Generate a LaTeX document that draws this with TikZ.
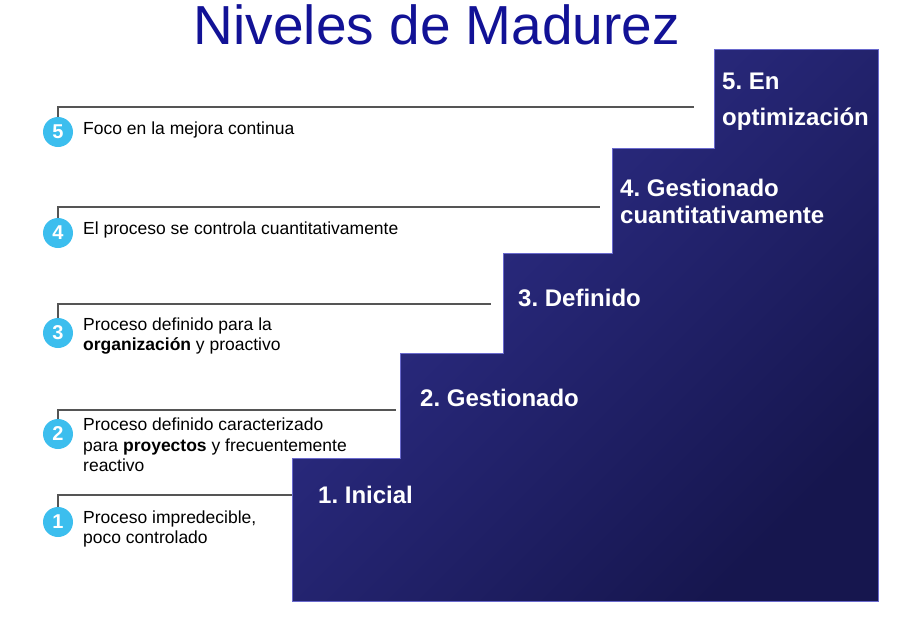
\documentclass[tikz,border=0pt]{standalone}
\usepackage{fontspec}
\setmainfont{Liberation Sans}
\usepackage{xcolor}
\usepackage{tikz}
\usetikzlibrary{positioning}

\definecolor{titleblue}{RGB}{18,18,150}
\definecolor{stairlight}{RGB}{48,48,142}
\definecolor{stairdark}{RGB}{22,22,78}
\definecolor{stairedge}{RGB}{105,105,205}
\definecolor{badge}{RGB}{60,190,238}
\definecolor{rule}{RGB}{85,85,85}

\begin{document}
\frenchspacing
\begin{tikzpicture}[
  x=1pt, y=-1pt,
  stair/.style={top color=stairlight, bottom color=stairdark, shading angle=45, draw=stairedge, line width=0.6pt},
  lvl/.style={anchor=west, align=left, inner sep=0pt, text=white, font=\fontsize{24}{27}\selectfont\bfseries},
  num/.style={circle, fill=badge, minimum size=30pt, inner sep=0pt, text=white, font=\fontsize{20}{20}\selectfont\bfseries},
  desc/.style={anchor=west, align=left, inner sep=0pt, font=\fontsize{17.5}{20.5}\selectfont},
  link/.style={draw=rule, line width=1.4pt},
]
\useasboundingbox (0,0) rectangle (903,625);

% Title
\node[anchor=base, text=titleblue, font=\fontsize{55}{60}\selectfont] (title) at (437,44) {Niveles de Madurez};

% Staircase
\shade[stair] (292,601) -- (292,458) -- (400,458) -- (400,353) -- (503,353) -- (503,253)
  -- (612,253) -- (612,148) -- (714,148) -- (714,49) -- (878,49) -- (878,601) -- cycle;

% Level names
\node[lvl] (l5) at (722,102) {5. En\\[9pt]optimización};
\node[lvl] (l4) at (620,201) {4. Gestionado\\cuantitativamente};
\node[lvl] (l3) at (518,298) {3. Definido};
\node[lvl] (l2) at (420,398) {2. Gestionado};
\node[lvl] (l1) at (318,495) {1. Inicial};

% Level 5
\node[num] (n5) at (58,132) {5};
\node[desc] (d5) at (83,130) {Foco en la mejora continua};
\coordinate (e5) at (694,107);

% Level 4
\node[num] (n4) at (58,233) {4};
\node[desc] (d4) at (83,230) {El proceso se controla cuantitativamente};
\coordinate (e4) at (600,207);

% Level 3
\node[num] (n3) at (58,333) {3};
\node[desc] (d3) at (83,336) {Proceso definido para la\\\textbf{organización} y proactivo};
\coordinate (e3) at (491,304);

% Level 2
\node[num] (n2) at (58,434) {2};
\node[desc] (d2) at (83,445) {Proceso definido caracterizado\\para \textbf{proyectos} y frecuentemente\\reactivo};
\coordinate (e2) at (396,410);

% Level 1
\node[num] (n1) at (58,522) {1};
\node[desc] (d1) at (83,529) {Proceso impredecible,\\poco controlado};
\coordinate (e1) at (292,495);

% Leader lines
\draw[link] (n5) |- (e5);
\draw[link] (n4) |- (e4);
\draw[link] (n3) |- (e3);
\draw[link] (n2) |- (e2);
\draw[link] (n1) |- (e1);

\end{tikzpicture}
\end{document}
